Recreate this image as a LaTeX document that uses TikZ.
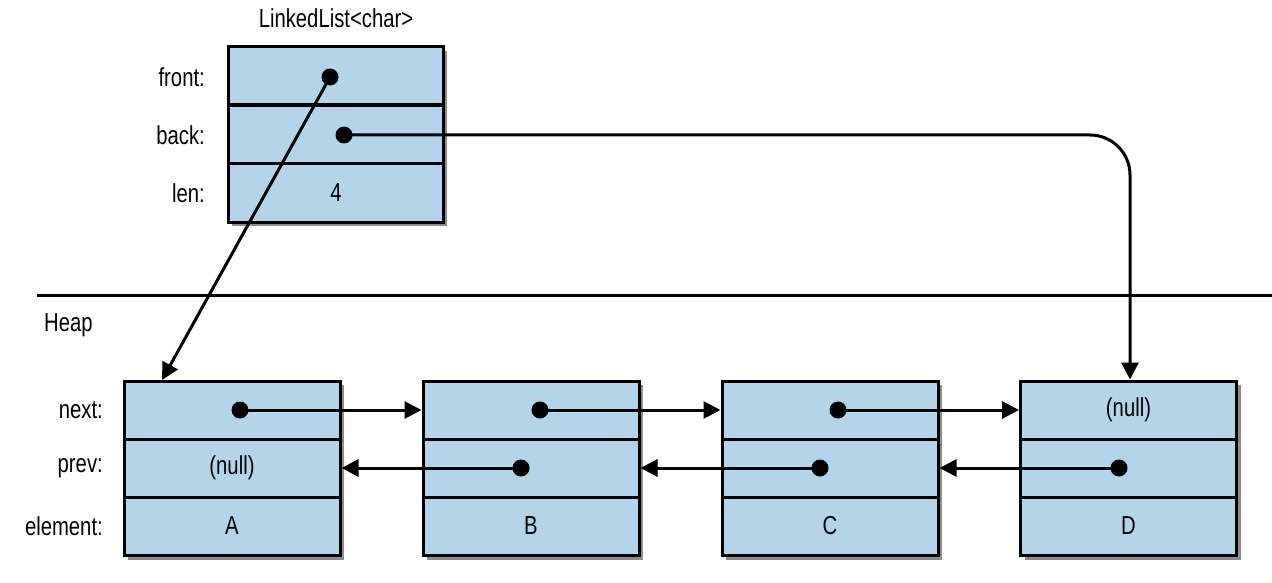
\documentclass[tikz,border=0pt]{standalone}
\usepackage{fontspec}
\setmainfont{Liberation Sans}[FakeStretch=0.78]
\usetikzlibrary{arrows.meta}
\begin{document}
\begin{tikzpicture}[x=1pt,y=-1pt,
  cell/.style={draw,line width=3pt,fill=cellblue,minimum width=216pt,minimum height=58pt,inner sep=0pt},
  lbl/.style={anchor=east,font=\fontsize{26}{28}\selectfont,inner sep=0pt},
  txt/.style={font=\fontsize{26}{28}\selectfont,inner sep=0pt},
  dot/.style={circle,fill=black,minimum size=17pt,inner sep=0pt},
  ptr/.style={line width=3pt,-{Triangle[length=17pt,width=17pt]}},
  shadow/.style={fill=black!45}]
\definecolor{cellblue}{HTML}{B3D4EA}
\useasboundingbox (0,0) rectangle (1272,583);
% top struct
\fill[shadow] (232,51) rectangle (447,226);
\node[cell,minimum width=215pt] (f) at (335.5,76) {};
\node[cell,minimum width=215pt] (b) at (335.5,135) {};
\node[cell,minimum width=215pt] (l) at (335.5,193) {};
\node[txt] (title) at (336,18) {LinkedList<char>};
\node[lbl] (lf) at (205,77) {front:};
\node[lbl] (lb) at (205,135) {back:};
\node[lbl] (ll) at (205,193) {len:};
\node[txt] (len) at (336,193) {4};
\node[dot] (fd) at (330,77) {};
\node[dot] (bd) at (344,135) {};
% divider
\draw[line width=3pt] (37,295) -- (1272,295);
\node[txt,anchor=west] (heap) at (44,325) {Heap};
\node[lbl] (ln) at (103,410) {next:};
\node[lbl] (lp) at (103,468) {prev:};
\node[lbl] (le) at (103,526) {element:};
% heap nodes
\foreach \n/\x/\e in {A/232/A,B/531/B,C/830/C,D/1128.5/D}{
  \fill[shadow] (\x-108+4,385) rectangle (\x+108+4,560);
  \node[cell] (\n1) at (\x,410) {};
  \node[cell] (\n2) at (\x,468) {};
  \node[cell] (\n3) at (\x,526) {};
  \node[txt] (\n e) at (\x,526) {\e};
}
\node[txt] (An) at (232,468) {(null)};
\node[txt] (Dn) at (1128.5,410) {(null)};
\node[dot] (An1) at (240,410) {};
\node[dot] (Bn1) at (540,410) {};
\node[dot] (Cn1) at (838,410) {};
\node[dot] (Bp) at (521,468) {};
\node[dot] (Cp) at (820,468) {};
\node[dot] (Dp) at (1119,468) {};
\draw[ptr] (An1.center) -- (B1.west);
\draw[ptr] (Bn1.center) -- (C1.west);
\draw[ptr] (Cn1.center) -- (D1.west);
\draw[ptr] (Bp.center) -- (A2.east);
\draw[ptr] (Cp.center) -- (B2.east);
\draw[ptr] (Dp.center) -- (C2.east);
\coordinate (atop) at (162,380);
\draw[ptr] (fd.center) -- (atop);
\draw[ptr,rounded corners=40pt] (bd.center) -- (1130,135) -- (D1.north -| 1130,0);
\end{tikzpicture}
\end{document}
